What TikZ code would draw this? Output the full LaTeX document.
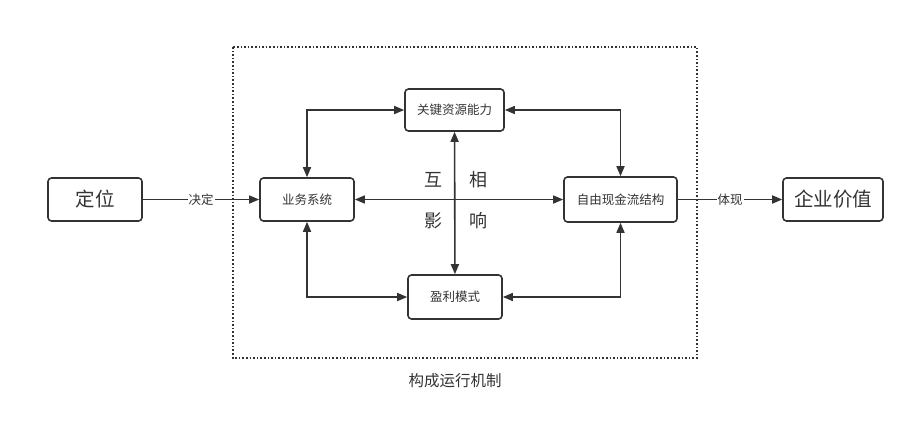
\documentclass[tikz,border=0pt]{standalone}
\usepackage{fontspec}
\setmainfont{Noto Sans CJK SC}
\usetikzlibrary{arrows.meta}
\definecolor{ln}{HTML}{333333}
\begin{document}
\begin{tikzpicture}[x=1pt,y=-1pt,
  box/.style={draw=ln,line width=1.6pt,rounded corners=3.5pt,minimum height=43pt,inner sep=0pt,text=ln},
  con/.style={draw=ln,line width=1.6pt,-{Triangle[length=10pt,width=8pt]}},
  dcon/.style={draw=ln,line width=1.6pt,{Triangle[length=10pt,width=8pt]}-{Triangle[length=10pt,width=8pt]}},
  lbl/.style={fill=white,inner sep=1pt,text=ln,font=\fontsize{12.5}{14}\selectfont},
  big/.style={font=\fontsize{19.5}{22}\selectfont},
  mid/.style={font=\fontsize{18}{20}\selectfont},
  sm/.style={font=\fontsize{12.5}{14}\selectfont}]
\useasboundingbox (0,0) rectangle (915,431);
\draw[ln,line width=1.6pt,dotted] (233,47) rectangle (697,358);
\node[box,big,minimum width=94pt] (dw) at (95,199.5) {定位};
\node[box,sm,minimum width=94pt] (yw) at (307,199.5) {业务系统};
\node[box,sm,minimum width=99pt,minimum height=42pt] (gj) at (454.5,110) {关键资源能力};
\node[box,sm,minimum width=113pt,minimum height=45pt] (zy) at (620.5,199.5) {自由现金流结构};
\node[box,big,minimum width=100pt] (qy) at (833,199.5) {企业价值};
\node[box,sm,minimum width=94pt,minimum height=44pt] (yl) at (455,297) {盈利模式};
\node[text=ln,font=\fontsize{15.5}{18}\selectfont] (gc) at (455,381) {构成运行机制};
\node[text=ln,mid] (h1) at (433,180) {互};
\node[text=ln,mid] (h2) at (478,180) {相};
\node[text=ln,mid] (h3) at (433,221) {影};
\node[text=ln,mid] (h4) at (478,221) {响};
\draw[con] (dw) -- node[lbl] {决定} (yw);
\draw[con] (zy) -- node[lbl] {体现} (qy);
\draw[dcon] (yw) -- (zy);
\draw[dcon] (gj) -- (yl);
\draw[dcon] (yw.north) |- (gj.west);
\draw[dcon] (gj.east) -| (zy.north);
\draw[dcon] (yw.south) |- (yl.west);
\draw[dcon] (yl.east) -| (zy.south);
\end{tikzpicture}
\end{document}
